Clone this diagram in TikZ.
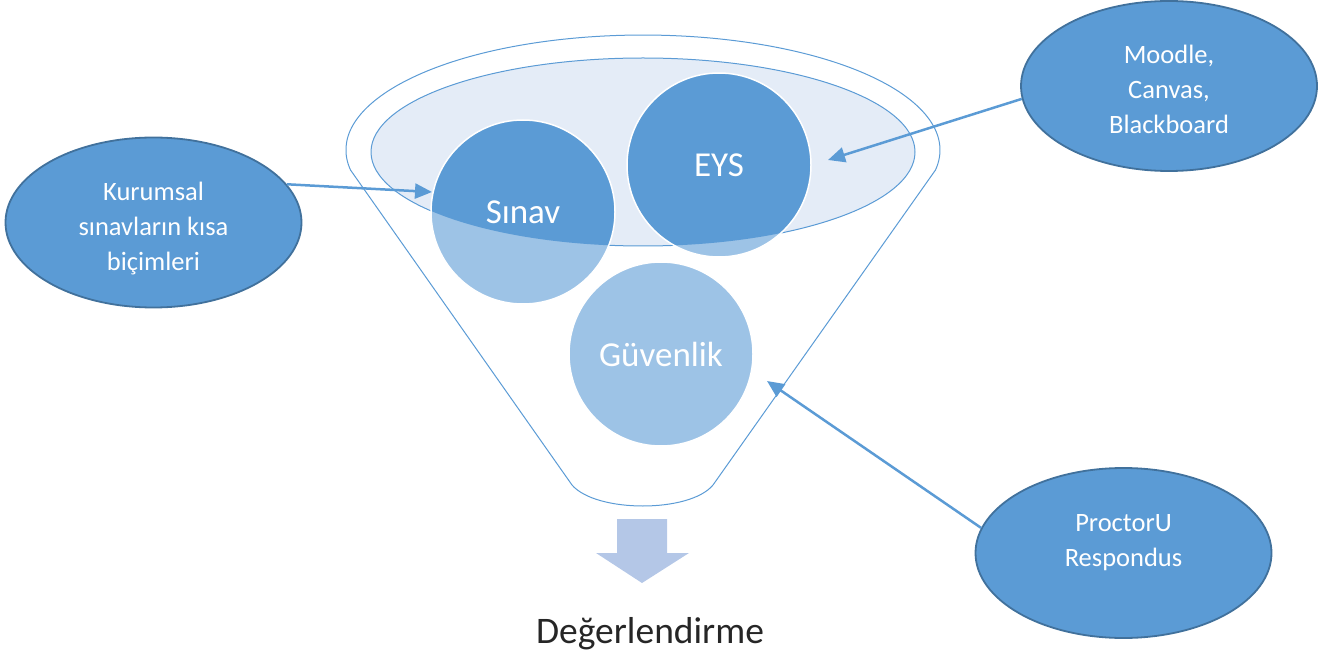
\documentclass[tikz,border=0pt]{standalone}
\usepackage{fontspec}
\setmainfont{Carlito}
\usetikzlibrary{shapes.geometric,arrows.meta}
\definecolor{cdark}{HTML}{5B9BD5}
\definecolor{clight}{HTML}{9DC3E6}
\definecolor{cpale}{HTML}{E4ECF7}
\definecolor{cedge}{HTML}{41719C}
\definecolor{cdown}{HTML}{B4C7E7}
\definecolor{ctext}{HTML}{262626}
\newcommand{\sidetext}[1]{\begin{tabular}[t]{@{}c@{}}#1\end{tabular}}
\begin{document}
\begin{tikzpicture}[x=1pt,y=1pt,
  side/.style={ellipse, fill=cdark, draw=cedge, line width=1.8pt, text=white,
    inner sep=0pt, minimum width=296pt, minimum height=170pt,
    text height=20pt, text depth=64pt, font=\fontsize{26.5}{35}\selectfont},
  ball/.style={circle, minimum size=184pt, inner sep=0pt, fill=clight, draw=white, line width=1.5pt,
    text=white, font=\fontsize{35}{40}\selectfont,
    path picture={\clip (ec) ellipse [x radius=272pt, y radius=94pt]; \fill[cdark] (ec) circle (1000pt);}},
  link/.style={draw=cdark, line width=2.5pt, -{Triangle[length=17pt,width=15pt]}},
  funnel/.style={draw=cdark, line width=1pt}]
\path[use as bounding box] (0,0) rectangle (1335,-660);
\coordinate (ec) at (643,-152);
% funnel outline
\draw[funnel] (350.5,-170) arc[start angle=190, end angle=-10, x radius=297pt, y radius=115pt]
  -- (713,-485) .. controls (690,-513) and (596,-513) .. (572,-485) -- cycle;
% inner ellipse
\draw[funnel, fill=cpale] (ec) ellipse [x radius=272pt, y radius=94pt];
% circles
\node[ball] (sinav) at (523,-212) {Sınav};
\node[ball] (eys) at (719,-165) {EYS};
\node[ball] (guv) at (661,-354) {Güvenlik};
% down arrow
\fill[cdown] (617,-519) -- (667,-519) -- (667,-553) -- (689,-553) -- (642,-583) -- (596,-553) -- (617,-553) -- cycle;
\node[font=\fontsize{37.5}{44}\selectfont, text=ctext, anchor=base] (deg) at (650,-643) {Değerlendirme};
% side ellipses
\node[side] (kur) at (153.5,-222.5) {\sidetext{Kurumsal\\sınavların kısa\\biçimleri}};
\node[side] (moo) at (1169,-86) {\sidetext{Moodle,\\Canvas,\\Blackboard}};
\node[side] (pro) at (1123.5,-553) {\sidetext{ProctorU\\Respondus}};
% arrows
\coordinate (t1) at (432,-192);
\coordinate (t2) at (828,-160);
\coordinate (t3) at (767,-381);
\draw[link] (kur.16) -- (t1);
\draw[link] (moo.185) -- (t2);
\draw[link] (pro.170) -- (t3);
\end{tikzpicture}
\end{document}
